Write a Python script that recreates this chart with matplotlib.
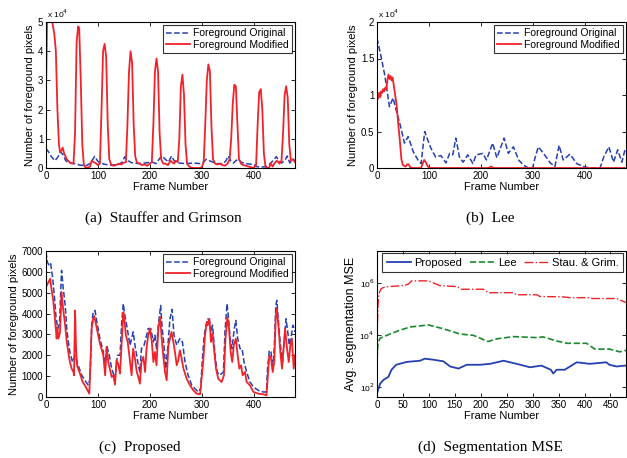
import matplotlib
matplotlib.use("Agg")
import matplotlib.pyplot as plt
from matplotlib.ticker import FixedLocator, NullLocator

plt.rcParams['font.family'] = ['Liberation Sans', 'DejaVu Sans']

# ---------------- (a) Stauffer and Grimson ----------------
a_mod_f = [0, 2, 12, 16, 19, 22, 25, 27, 30, 32, 35, 40, 45, 50, 53, 56, 59, 62, 64, 67, 70, 73, 76, 80, 85, 88, 92, 97, 100, 104, 107, 110, 113, 116, 119, 122, 126, 130, 135, 140, 145, 150, 154, 157, 160, 163, 166, 169, 172, 175, 180, 185, 190, 195, 200, 204, 207, 210, 213, 216, 219, 222, 226, 230, 235, 240, 243, 247, 250, 254, 257, 260, 263, 266, 269, 272, 276, 280, 285, 295, 300, 304, 307, 310, 313, 316, 319, 322, 326, 330, 335, 340, 345, 350, 354, 357, 360, 363, 366, 369, 372, 376, 380, 385, 390, 395, 400, 405, 408, 411, 414, 417, 420, 423, 426, 430, 433, 437, 440, 445, 450, 454, 457, 460, 463, 466, 469, 472, 476, 480]
a_mod_v = [26000, 50000, 50000, 46000, 40000, 20000, 8000, 5500, 6000, 7000, 5000, 3000, 2000, 1500, 1500, 12000, 43000, 48500, 48000, 30000, 8000, 1000, 200, 100, 500, 2500, 2000, 1500, 1000, 1500, 20000, 40000, 42500, 38000, 15000, 3000, 1000, 800, 1000, 1500, 1200, 1800, 2000, 15000, 33000, 40000, 36000, 15000, 4000, 2000, 1500, 1000, 1200, 800, 1500, 2000, 15000, 33000, 37500, 33000, 12000, 3000, 1500, 1500, 1000, 2500, 2000, 1500, 2500, 2000, 10000, 28000, 32000, 25000, 8000, 1500, 500, 100, 0, 0, 200, 2000, 15000, 30000, 35500, 33000, 14000, 3000, 1500, 1200, 1500, 1000, 800, 1500, 3000, 10000, 22000, 28500, 28000, 15000, 3000, 1500, 1000, 800, 500, 300, 0, 1000, 15000, 26000, 27000, 20000, 5000, 500, 0, 0, 1500, 500, 1500, 2500, 1500, 2500, 12000, 25000, 28000, 24000, 8000, 2500, 3000, 2000]
a_org_f = [0, 5, 10, 17, 22, 28, 33, 38, 45, 55, 65, 77, 85, 94, 99, 104, 115, 125, 140, 147, 152, 158, 165, 180, 195, 205, 212, 218, 223, 230, 236, 242, 247, 255, 270, 285, 297, 303, 309, 315, 322, 330, 342, 347, 351, 356, 361, 366, 371, 376, 385, 400, 405, 415, 425, 432, 438, 444, 449, 454, 460, 465, 470, 476, 480]
a_org_v = [6700, 5500, 4000, 2500, 3500, 5500, 4500, 2500, 1800, 1500, 1000, 800, 1500, 4000, 2500, 1700, 1200, 1000, 1200, 2000, 3900, 2500, 1800, 1500, 1800, 2000, 1500, 3000, 4100, 3000, 2000, 4100, 2500, 1700, 1500, 1700, 1500, 2000, 3000, 2500, 2000, 1500, 1500, 2500, 4100, 2500, 1700, 2500, 3000, 2000, 1500, 1200, 500, 300, 500, 1500, 2500, 3900, 2500, 1700, 2500, 4100, 1700, 3000, 2500]

# ---------------- (b) Lee ----------------
b_mod_f = [0, 2, 4, 6, 8, 10, 12, 14, 16, 18, 20, 22, 24, 26, 28, 30, 32, 35, 38, 41, 44, 47, 50, 55, 58, 61, 64, 68, 85, 88, 91, 94, 98, 102, 215, 220, 225, 480]
b_mod_v = [10000, 9500, 10300, 9700, 10500, 10300, 10800, 10500, 11000, 10800, 12000, 12800, 12200, 12600, 12000, 12400, 11500, 10000, 8500, 6000, 3800, 1200, 400, 200, 500, 500, 100, 0, 0, 600, 1100, 800, 200, 0, 0, 200, 0, 0]
b_org_f = [0, 8, 15, 24, 31, 37, 44, 53, 60, 70, 79, 85, 92, 98, 104, 113, 123, 133, 140, 146, 152, 159, 166, 175, 185, 191, 204, 211, 223, 231, 245, 253, 263, 273, 282, 292, 300, 305, 311, 321, 327, 334, 343, 351, 359, 372, 385, 398, 410, 430, 437, 447, 456, 464, 472, 478, 480]
b_org_v = [17800, 15200, 12700, 8400, 9600, 7900, 6100, 3400, 4300, 2200, 1100, 600, 5000, 3800, 2700, 1500, 1700, 700, 2000, 1800, 4100, 1500, 800, 1800, 600, 1800, 2000, 1100, 3400, 1400, 4100, 2000, 2900, 1100, 400, 0, 0, 1500, 2900, 2000, 1400, 700, 200, 3100, 1100, 1900, 600, 200, 0, 0, 1500, 2900, 800, 2500, 800, 2500, 2200]

# ---------------- (c) Proposed ----------------
c_mod_f = [0, 4.5, 8, 11, 14, 17, 20.5, 22, 24, 27, 30, 33, 37, 40, 43, 46, 49.5, 53, 54, 56, 58, 60, 65.5, 70.7, 75, 80, 83.5, 86, 88, 91, 93, 98, 104, 110.5, 114, 117, 120, 123, 126.6, 130, 133, 136, 139, 142.7, 146, 149, 151, 154, 157.5, 160.6, 165, 168, 171.5, 175, 178, 181, 184, 187.6, 191, 194, 197, 200.5, 204, 207, 210, 213, 216.5, 220, 223, 226, 229.4, 232.6, 236, 239, 242, 245.5, 249, 252, 255, 258, 261.5, 265, 271, 277.6, 284, 290.5, 297, 300, 303, 306.5, 310, 311.7, 315, 318, 321, 324.5, 327.7, 332, 338.6, 343, 346, 349.6, 352.8, 356, 359, 362, 366, 369.5, 372.7, 376, 379, 383.6, 386.8, 393, 400, 409, 419, 425, 427, 430.5, 433.8, 437, 440, 443, 445, 448.5, 451.7, 455, 458, 461, 464.6, 468, 471, 474, 477.5, 480]
c_mod_v = [5270, 5500, 5670, 5100, 4630, 3830, 2800, 3350, 2800, 3100, 5030, 4230, 3430, 2640, 2160, 1680, 1360, 1200, 1040, 4150, 2300, 1500, 1120, 720, 560, 320, 160, 1840, 3280, 3750, 3880, 3280, 2560, 2000, 1040, 2400, 1680, 1360, 960, 1040, 590, 1760, 1600, 1120, 2640, 4070, 3750, 2960, 2640, 2000, 1040, 2320, 1840, 1200, 960, 640, 1680, 1920, 1200, 2400, 2960, 3280, 2640, 1680, 2160, 1520, 3280, 3830, 2800, 2000, 1200, 800, 2480, 2800, 3120, 2640, 2080, 1520, 1760, 2240, 1840, 1360, 880, 560, 320, 160, 130, 880, 1680, 2960, 3600, 3440, 3750, 2640, 3040, 2160, 1360, 880, 720, 1040, 2800, 3830, 3280, 2160, 1680, 2480, 2800, 2000, 1360, 1520, 1040, 1200, 720, 560, 240, 160, 130, 80, 800, 2000, 1840, 1200, 1680, 3900, 4230, 3280, 2160, 1360, 2320, 3280, 2320, 1680, 2480, 2800, 1360, 2000]
c_org_f = [0, 2.5, 6.4, 9, 13, 16, 19, 22.5, 26, 30, 33, 37, 40, 43, 46, 51, 56, 62, 69, 75, 81.6, 85, 88, 91, 94.5, 98, 104, 110.5, 114, 117, 122, 126.6, 133, 137.5, 142.7, 146, 149, 152, 155.5, 162, 168, 171.5, 178, 181, 184, 189, 194, 197, 202, 207, 210, 213, 216.5, 221, 224, 227.5, 230.7, 234.5, 239, 243, 246.8, 252, 258, 263, 268, 274, 281, 287, 293.7, 298, 302, 305, 308.5, 311.7, 315, 318, 321, 325.8, 330, 335, 342, 345, 349, 352, 355, 358.6, 363, 366, 369.5, 374, 378, 381.7, 386.8, 393, 400, 409, 419, 425, 427, 430.5, 433.8, 437, 440, 443, 445, 448.5, 452, 456, 459.5, 462.7, 466, 469, 473, 476, 480]
c_org_v = [6950, 6470, 6300, 6390, 5670, 4870, 3910, 3280, 3500, 6070, 5270, 4390, 3280, 2640, 2160, 1680, 2000, 1520, 1040, 800, 560, 880, 3440, 4070, 4150, 3600, 2800, 2160, 1440, 2480, 2000, 1360, 880, 2000, 2000, 3600, 4470, 3910, 3440, 2480, 3120, 2480, 1520, 1200, 2320, 2480, 2960, 3280, 3280, 2640, 2960, 2320, 3440, 4390, 3280, 2480, 1360, 2320, 3750, 4200, 2960, 2480, 2800, 2640, 1680, 1040, 560, 400, 240, 400, 2000, 2960, 3440, 3750, 3670, 3120, 3440, 2000, 1200, 1040, 1200, 3120, 4470, 3750, 2800, 2320, 3280, 3670, 2800, 2320, 2320, 1680, 1200, 720, 480, 320, 240, 240, 1360, 2240, 2160, 1360, 2320, 4390, 4630, 3440, 2480, 1680, 2800, 3750, 3120, 2480, 2960, 3440, 3120]

# ---------------- (d) Segmentation MSE ----------------
d_prop_f = [0, 6, 12, 22, 28, 37, 57, 83, 92, 108, 128, 141, 157, 173, 199, 218, 244, 269, 295, 317, 335, 340, 346, 362, 385, 410, 442, 448, 462, 478, 480]
d_prop_v = [55, 130, 180, 240, 450, 700, 900, 1000, 1200, 1100, 950, 600, 500, 700, 700, 760, 1000, 760, 560, 650, 450, 320, 450, 450, 870, 760, 870, 700, 600, 650, 640]
d_lee_f = [0, 2, 6, 25, 44, 64, 99, 128, 160, 186, 214, 231, 263, 308, 320, 346, 366, 404, 420, 449, 468, 478, 480]
d_lee_v = [1200, 5000, 7400, 10700, 15000, 20000, 24000, 17000, 10700, 9500, 5500, 7000, 8500, 7800, 8300, 5800, 4700, 4700, 2800, 2800, 2200, 2500, 2400]
d_sg_f = [0, 1, 2, 4, 8, 15, 22, 51, 60, 67, 99, 121, 154, 163, 205, 215, 263, 269, 308, 314, 358, 372, 407, 414, 462, 478, 480]
d_sg_v = [8000, 30000, 150000, 400000, 600000, 700000, 720000, 790000, 890000, 1200000, 1200000, 790000, 720000, 570000, 570000, 420000, 420000, 350000, 350000, 300000, 290000, 270000, 270000, 250000, 250000, 180000, 180000]

x_ticks_abc = [0, 100, 200, 300, 400]
x_ticks_d = [0, 50, 100, 150, 200, 250, 300, 350, 400, 450]

BLUE = '#2540b0'
RED = '#f0222a'
GREEN = '#168a2c'

fig = plt.figure(figsize=(6.27, 4.58), dpi=100)
W, H = 627.0, 458.0

def make_ax(l, r, t, b):
    return fig.add_axes([l / W, (H - b) / H, (r - l) / W, (b - t) / H])

axA = make_ax(46, 295, 22, 168)
axB = make_ax(377, 626, 22, 168)
axC = make_ax(46, 295, 251, 397)
axD = make_ax(377, 626, 251, 397)

def style(ax):
    ax.tick_params(direction='in', top=True, right=True, labelsize=7, length=3, width=0.6, pad=2)
    for s in ax.spines.values():
        s.set_linewidth(0.8)
    ax.set_xlabel('Frame Number', fontsize=8, labelpad=1)

# (a)
axA.plot(a_org_f, a_org_v, '--', color=BLUE, lw=1.1, label='Foreground Original')
axA.plot(a_mod_f, a_mod_v, '-', color=RED, lw=1.3, label='Foreground Modified')
axA.set_xlim(0, 480)
axA.set_ylim(0, 50000)
axA.set_xticks(x_ticks_abc)
axA.set_yticks([0, 10000, 20000, 30000, 40000, 50000])
axA.set_yticklabels(['0', '1', '2', '3', '4', '5'])
axA.set_ylabel('Number of foreground pixels', fontsize=8, labelpad=2)
axA.text(0.005, 1.015, r'x 10$^4$', transform=axA.transAxes, fontsize=6, va='bottom')
style(axA)

# (b)
axB.plot(b_org_f, b_org_v, '--', color=BLUE, lw=1.1, label='Foreground Original')
axB.plot(b_mod_f, b_mod_v, '-', color=RED, lw=1.3, label='Foreground Modified')
axB.set_xlim(0, 480)
axB.set_ylim(0, 20000)
axB.set_xticks(x_ticks_abc)
axB.set_yticks([0, 5000, 10000, 15000, 20000])
axB.set_yticklabels(['0', '0.5', '1', '1.5', '2'])
axB.set_ylabel('Number of foreground pixels', fontsize=8, labelpad=2)
axB.text(0.005, 1.015, r'x 10$^4$', transform=axB.transAxes, fontsize=6, va='bottom')
style(axB)

# (c)
axC.plot(c_org_f, c_org_v, '--', color=BLUE, lw=1.1, label='Foreground Original')
axC.plot(c_mod_f, c_mod_v, '-', color=RED, lw=1.3, label='Foreground Modified')
axC.set_xlim(0, 480)
axC.set_ylim(0, 7000)
axC.set_xticks(x_ticks_abc)
axC.set_yticks([0, 1000, 2000, 3000, 4000, 5000, 6000, 7000])
axC.set_ylabel('Number of foreground pixels', fontsize=8, labelpad=2)
style(axC)

for ax in (axA, axB, axC):
    leg = ax.legend(loc='upper right', fontsize=7.5, frameon=True, fancybox=False,
                    handlelength=2.3, handletextpad=0.3, borderpad=0.3,
                    labelspacing=0.15, borderaxespad=0.3)
    leg.get_frame().set_edgecolor('black')
    leg.get_frame().set_linewidth(0.8)

# (d)
axD.plot(d_prop_f, d_prop_v, '-', color=BLUE, lw=1.3, label='Proposed')
axD.plot(d_lee_f, d_lee_v, '--', color=GREEN, lw=1.2, label='Lee')
axD.plot(d_sg_f, d_sg_v, '-.', color=RED, lw=1.0, label='Stau. & Grim.')
axD.set_yscale('log')
axD.set_xlim(0, 480)
axD.set_ylim(40, 1.7e7)
axD.set_xticks(x_ticks_d)
axD.yaxis.set_major_locator(FixedLocator([1e2, 1e4, 1e6]))
axD.yaxis.set_minor_locator(NullLocator())
axD.set_yticklabels([r'10$^2$', r'10$^4$', r'10$^6$'])
axD.set_ylabel('Avg. segmentation MSE', fontsize=9, labelpad=2)
style(axD)
axD.tick_params(axis='y', labelsize=6)
legD = axD.legend(loc='upper center', bbox_to_anchor=(0.505, 0.985), ncol=3, fontsize=8,
                  frameon=True, fancybox=False,
                  handlelength=2.2, handletextpad=0.3, columnspacing=0.7,
                  borderpad=0.4, borderaxespad=0.0)
legD.get_frame().set_edgecolor('black')
legD.get_frame().set_linewidth(0.8)

# captions
cap_font = dict(family=['Liberation Serif', 'DejaVu Serif'], fontsize=11, ha='center', va='center')
fig.text(163 / W, 1 - 218 / H, '(a)  Stauffer and Grimson', **cap_font)
fig.text(490 / W, 1 - 218 / H, '(b)  Lee', **cap_font)
fig.text(140 / W, 1 - 447 / H, '(c)  Proposed', **cap_font)
fig.text(490 / W, 1 - 447 / H, '(d)  Segmentation MSE', **cap_font)

fig.savefig('out.png', dpi=100)
